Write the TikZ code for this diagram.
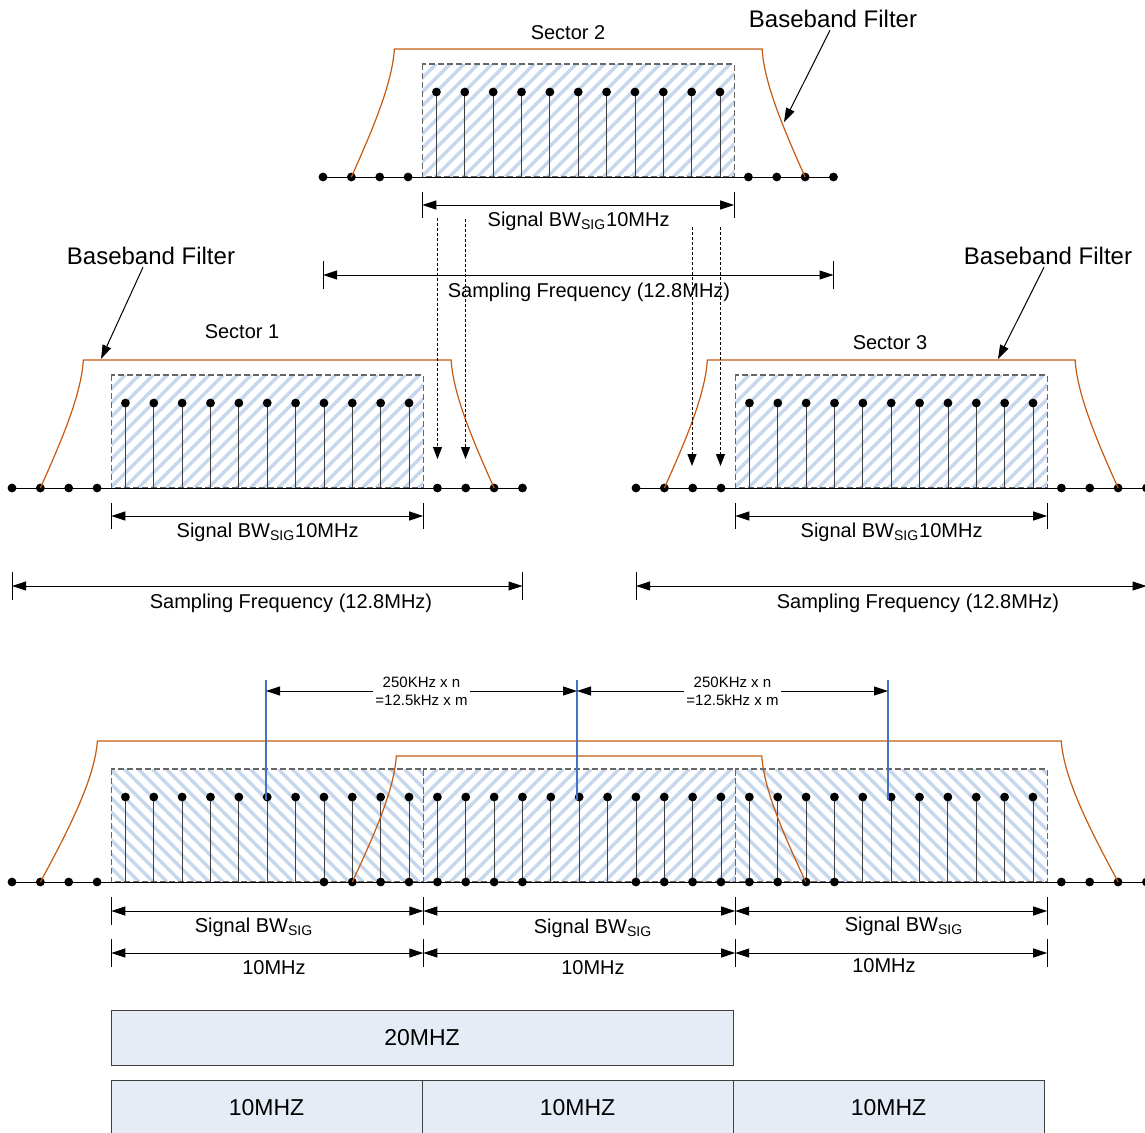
\documentclass[tikz,border=0pt]{standalone}
\usepackage{fontspec}
\setmainfont{Liberation Sans}
\usetikzlibrary{arrows.meta}
\definecolor{filt}{RGB}{197,90,17}
\definecolor{hatch}{RGB}{198,214,236}
\definecolor{stemc}{RGB}{64,64,64}
\definecolor{markblue}{RGB}{68,114,196}
\definecolor{chanfill}{RGB}{230,236,246}
\tikzset{
  dot/.style={circle,fill=black,inner sep=0pt,minimum size=4.4pt},
  bbfilter/.style={draw=filt,line width=0.6pt},
  band/.style={draw=black!60,dash pattern=on 3pt off 1.5pt,line width=0.6pt},
  hatchline/.style={draw=hatch,line width=1.7pt},
  dimarrow/.style={{Triangle[length=7pt,width=4.5pt]}-{Triangle[length=7pt,width=4.5pt]},line width=0.5pt},
  fold/.style={-{Triangle[length=6pt,width=4.5pt]},dash pattern=on 1.5pt off 1pt,line width=0.5pt},
  pointer/.style={-{Triangle[length=7pt,width=4.5pt]},line width=0.5pt},
  lbl/.style={font=\fontsize{10}{12}\selectfont,inner sep=1pt},
  biglbl/.style={font=\fontsize{12}{14}\selectfont,inner sep=1pt},
  smalllbl/.style={font=\fontsize{7.5}{9}\selectfont,align=center,fill=white,inner sep=1pt},
  chan/.style={draw=black!75,fill=chanfill,line width=0.5pt,inner sep=0pt,outer sep=0pt,
    minimum height=27.5pt,font=\fontsize{11.5}{13}\selectfont}
}
% filter edge: x left, x right, axis y, height, slope width
\newcommand{\bbfilt}[5]{%
  \draw[bbfilter] (#1,#3) .. controls ({#1+0.5*#5},{#3-0.375*#4}) and ({#1+0.95*#5},{#3-0.73*#4}) .. ({#1+#5},{#3-#4})
    -- ({#2-#5},{#3-#4}) .. controls ({#2-0.95*#5},{#3-0.73*#4}) and ({#2-0.5*#5},{#3-0.375*#4}) .. (#2,#3);}
% signal band: x left, x right, axis y, stripe direction (1 up, -1 down)
\newcommand{\hatchbox}[4]{%
  \begin{scope}
    \clip (#1,#3-113) rectangle (#2,#3);
    \foreach \h in {0,...,31}
      \draw[hatchline] ({#1-113+14*\h},{#3-56.5+56.5*(#4)}) -- ++(113,{-113*(#4)});
  \end{scope}
  \draw[band] (#1,#3-113) rectangle (#2,#3);}

\begin{document}
\begin{tikzpicture}[x=0.5pt,y=-0.5pt]
\useasboundingbox (0,0) rectangle (1145,1132);
%sectors 2, 1 and 3
\foreach \xo/\yo/\sec/\sx in {323/177/2/266,12/488/1/279,636/488/3/282}{
  \hatchbox{\xo+99.3}{\xo+411.2}{\yo}{1}
  \draw (\xo,\yo) -- (\xo+510.5,\yo);
  \foreach \k in {4,...,14}
    \draw[stemc] (\xo+28.36*\k,\yo) -- (\xo+28.36*\k,\yo-85) node[dot] (t\sec-\k) {};
  \foreach \k in {0,1,2,3,15,16,17,18}
    \node[dot] (a\sec-\k) at (\xo+28.36*\k,\yo) {};
  \bbfilt{\xo+28.36}{\xo+482.1}{\yo}{128}{43}
  %bandwidth and sampling span
  \draw (\xo+99.3,\yo+15) -- (\xo+99.3,\yo+41) (\xo+411.2,\yo+15) -- (\xo+411.2,\yo+41);
  \draw (\xo,\yo+84) -- (\xo,\yo+112) (\xo+510.5,\yo+84) -- (\xo+510.5,\yo+112);
  \coordinate (bwl\sec) at (\xo+99.3,\yo+28);
  \coordinate (bwr\sec) at (\xo+411.2,\yo+28);
  \coordinate (fsl\sec) at (\xo,\yo+98);
  \coordinate (fsr\sec) at (\xo+510.5,\yo+98);
  \draw[dimarrow] (bwl\sec) -- (bwr\sec);
  \draw[dimarrow] (fsl\sec) -- (fsr\sec);
  \node[lbl] (bw\sec) at (\xo+255.6,\yo+44) {Signal BW\textsubscript{SIG}10MHz};
  \node[lbl] (fs\sec) at (\xo+\sx,\yo+115) {Sampling Frequency (12.8MHz)};
}
\node[lbl] (sec2) at (568,33) {Sector 2};
\node[lbl] (sec1) at (242,332) {Sector 1};
\node[lbl] (sec3) at (890,343) {Sector 3};
%baseband filter callouts
\node[biglbl] (bf2) at (833,19) {Baseband Filter};
\node[biglbl] (bf1) at (151,256) {Baseband Filter};
\node[biglbl] (bf3) at (1048,256) {Baseband Filter};
\coordinate (p2) at (784,122);
\coordinate (p1) at (101,359);
\coordinate (p3) at (998,359);
\draw[pointer] ([xshift=-1.5pt]bf2.south) -- (p2);
\draw[pointer] ([xshift=-4pt]bf1.south) -- (p1);
\draw[pointer] ([xshift=-2pt]bf3.south) -- (p3);
%aliasing of the sector 2 edges
\coordinate (f1) at (437.5,218); \coordinate (g1) at (437.5,459);
\coordinate (f2) at (465.5,219); \coordinate (g2) at (465.5,459);
\coordinate (f3) at (692,227);   \coordinate (g3) at (692,466);
\coordinate (f4) at (720.5,227); \coordinate (g4) at (720.5,466);
\foreach \i in {1,...,4}
  \draw[fold] (f\i) -- (g\i);

%combined spectrum
\foreach \k/\hs in {3.5/-1,14.5/1,25.5/-1}
  \hatchbox{12+28.36*\k}{12+28.36*\k+311.96}{882}{\hs}
\draw (12,882) -- (1146.4,882);
\foreach \k in {4,...,36}
  \draw[stemc] (12+28.36*\k,882) -- (12+28.36*\k,797) node[dot] (tc-\k) {};
\foreach \k in {0,1,2,3,11,12,13,14,15,16,17,18,22,23,24,25,26,27,28,29,37,38,39,40}
  \node[dot] (ac-\k) at (12+28.36*\k,882) {};
\bbfilt{40.4}{1118.2}{882}{141}{57}
\bbfilt{352.3}{805.8}{882}{126}{44}
%channel raster
\foreach \i/\x in {1/266,2/577,3/888}{
  \coordinate (m\i) at (\x,680);
  \coordinate (r\i) at (\x,691);
  \draw[markblue,line width=0.6pt] (m\i) -- (\x,800);
}
\draw[dimarrow] (r1) -- node[smalllbl] (ras1) {250KHz x n\\=12.5kHz x m} (r2);
\draw[dimarrow] (r2) -- node[smalllbl] (ras2) {250KHz x n\\=12.5kHz x m} (r3);
%bandwidth rows
\foreach \i/\x in {0/111.3,1/423.3,2/735.2,3/1047.2}{
  \draw (\x,897) -- (\x,925) (\x,939) -- (\x,967);
  \coordinate (b\i) at (\x,911);
  \coordinate (c\i) at (\x,953);
}
\foreach \i/\j in {0/1,1/2,2/3}{
  \draw[dimarrow] (b\i) -- (b\j);
  \draw[dimarrow] (c\i) -- (c\j);
}
\node[lbl] (sb1) at (254,927) {Signal BW\textsubscript{SIG}};
\node[lbl] (sb2) at (593,928) {Signal BW\textsubscript{SIG}};
\node[lbl] (sb3) at (904,926) {Signal BW\textsubscript{SIG}};
\node[lbl] (mz1) at (274,968) {10MHz};
\node[lbl] (mz2) at (593,968) {10MHz};
\node[lbl] (mz3) at (884,966) {10MHz};
%channel grid
\node[chan,anchor=north west,minimum width=311pt] (ch20) at (111,1010) {20MHZ};
\node[chan,anchor=north west,minimum width=155.5pt] (ch10a) at (111,1080) {10MHZ};
\node[chan,anchor=north west,minimum width=155.5pt] (ch10b) at (422,1080) {10MHZ};
\node[chan,anchor=north west,minimum width=155.5pt] (ch10c) at (733,1080) {10MHZ};
\end{tikzpicture}
\end{document}
